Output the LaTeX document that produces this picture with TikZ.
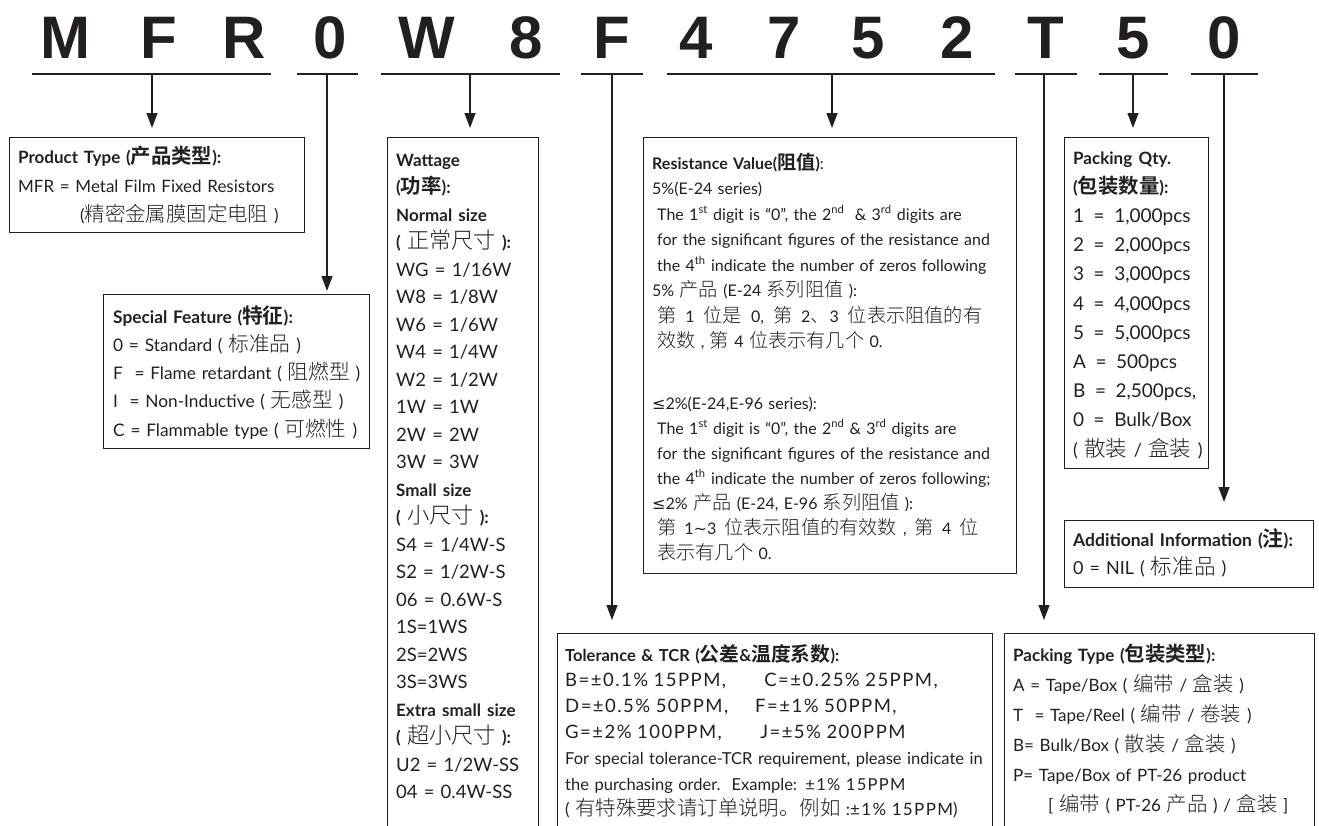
\documentclass[tikz,border=0pt]{standalone}
\usepackage{fontspec}
\setmainfont{Lato}
\IfFontExistsTF{Noto Sans CJK SC Light}{%
  \newfontfamily\cjk[Scale=1.2, UprightFont=* Light, BoldFont=* Bold]{Noto Sans CJK SC}}{%
  \newfontfamily\cjk[Scale=1.2]{Noto Sans CJK SC}}
\newfontfamily\bigfont{Liberation Sans}
\newfontfamily\symfont{DejaVu Sans}
\usetikzlibrary{arrows.meta}
\definecolor{ink}{RGB}{35,31,32}
\newcommand\zh[1]{{\cjk #1}}
\newcommand\sy[1]{{\symfont #1}}
\newcommand\sups[1]{\textsuperscript{#1}}
\newcommand\hb[1]{{\fontsize{17}{27.5}\selectfont\bfseries #1}}
\newcommand\hq[1]{{\fontsize{17}{29.2}\selectfont\bfseries #1}}
\newcommand\tv[1]{{\fontsize{18.5}{25.8}\selectfont\addfontfeatures{LetterSpace=8}#1}}
\newcommand\ls[1]{{\addfontfeatures{LetterSpace=8}#1}}
\newcommand\eq{\enspace=\enspace}
\tikzset{
  letter/.style={font=\bigfont\bfseries\fontsize{60}{60}\selectfont, anchor=base, inner sep=0pt, text=ink},
  uline/.style={draw=ink, line width=2pt},
  frame/.style={draw=ink, line width=1.1pt, anchor=north west, inner sep=0pt, minimum width=#1},
  fh/.style={minimum height=#1},
  txt/.style={anchor=base west, inner sep=0pt, text width=#1, align=left, text=ink},
  conn/.style={draw=ink, line width=1.3pt, -{Triangle[length=15pt,width=11pt]}},
}
\begin{document}
\begin{tikzpicture}[x=1pt,y=-1pt]
\useasboundingbox (0,0) rectangle (1319,825);
\clip (0,0) rectangle (1319,825);
% code letters
\node[letter] (L1) at (65,58) {M};
\node[letter] (L2) at (159,58) {F};
\node[letter] (L3) at (244,58) {R};
\node[letter] (L4) at (330,58) {0};
\node[letter] (L5) at (427,58) {W};
\node[letter] (L6) at (526,58) {8};
\node[letter] (L7) at (612,58) {F};
\node[letter] (L8) at (696,58) {4};
\node[letter] (L9) at (784,58) {7};
\node[letter] (L10) at (868,58) {5};
\node[letter] (L11) at (957,58) {2};
\node[letter] (L12) at (1046,58) {T};
\node[letter] (L13) at (1133,58) {5};
\node[letter] (L14) at (1224,58) {0};
% underlines
\draw[uline] (32,74) -- (271,74);
\draw[uline] (297,74) -- (358,74);
\draw[uline] (381,74) -- (560,74);
\draw[uline] (581,74) -- (643,74);
\draw[uline] (667,74) -- (995,74);
\draw[uline] (1015,74) -- (1077,74);
\draw[uline] (1099,74) -- (1168,74);
\draw[uline] (1191,74) -- (1258,74);
\coordinate (c1) at (152,74);
\coordinate (c2) at (327,74);
\coordinate (c3) at (470,74);
\coordinate (c4) at (612,74);
\coordinate (c5) at (832,74);
\coordinate (c6) at (1044,74);
\coordinate (c7) at (1133,74);
\coordinate (c8) at (1224,74);
% frames
\node[frame=295pt, fh=95pt] (pt) at (9,137) {};
\node[frame=266pt, fh=154pt] (sf) at (103,294) {};
\node[frame=151pt, fh=720pt] (wt) at (387,137) {};
\node[frame=373pt, fh=436pt] (rv) at (643,137) {};
\node[frame=435pt, fh=220pt] (tl) at (557,633) {};
\node[frame=144pt, fh=331pt] (pq) at (1064,137) {};
\node[frame=249pt, fh=67pt] (ai) at (1064,520) {};
\node[frame=310pt, fh=220pt] (ptp) at (1004,633) {};
% connectors
\draw[conn, shorten >=9pt] (c1) -- (c1 |- pt.north);
\draw[conn, shorten >=3pt] (c2) -- (c2 |- sf.north);
\draw[conn, shorten >=9pt] (c3) -- (c3 |- wt.north);
\draw[conn, shorten >=13pt] (c4) -- (c4 |- tl.north);
\draw[conn, shorten >=9pt] (c5) -- (c5 |- rv.north);
\draw[conn, shorten >=13pt] (c6) -- (c6 |- ptp.north);
\draw[conn, shorten >=9pt] (c7) -- (c7 |- pq.north);
\draw[conn, shorten >=18pt] (c8) -- (c8 |- ai.north);
% texts
\node[txt=285pt, font=\fontsize{17}{29}\selectfont] (pt-t) at (18,163) {%
\textbf{Product Type (\zh{产品类型}):}\\
MFR = Metal Film Fixed Resistors\\
\hspace*{62pt}(\zh{精密金属膜固定电阻} )};
\node[txt=260pt, font=\fontsize{17.3}{28.3}\selectfont] (sf-t) at (113,323) {%
\textbf{Special Feature (\zh{特征}):}\\
0 = Standard ( \zh{标准品} )\\
F\ \ = Flame retardant ( \zh{阻燃型} )\\
I\ \ = Non-Inductive ( \zh{无感型} )\\
C = Flammable type ( \zh{可燃性} )};
\node[txt=140pt, font=\fontsize{18.5}{27.5}\selectfont] (wt-t) at (396,166) {%
\hb{Wattage}\\
\hb{(\zh{功率}):}\\
\hb{Normal size}\\
\hb{(} \zh{正常尺寸} \hb{):}\\
WG = 1/16W\\
W8 = 1/8W\\
W6 = 1/6W\\
W4 = 1/4W\\
W2 = 1/2W\\
1W = 1W\\
2W = 2W\\
3W = 3W\\
\hb{Small size}\\
\hb{(} \zh{小尺寸} \hb{):}\\
S4 = 1/4W-S\\
S2 = 1/2W-S\\
06 = 0.6W-S\\
1S=1WS\\
2S=2WS\\
3S=3WS\\
\hb{Extra small size}\\
\hb{(} \zh{超小尺寸} \hb{):}\\
U2 = 1/2W-SS\\
04 = 0.4W-SS};
\node[txt=365pt, font=\fontsize{16}{25.5}\selectfont] (rv-t1) at (652,169) {%
\textbf{Resistance Value(\zh{阻值})}:\\
5\%(E-24 series)\\
\hspace*{5pt}The 1\sups{st} digit is “0”, the 2\sups{nd}\ \ \& 3\sups{rd} digits are\\
\hspace*{5pt}for the significant figures of the resistance and\\
\hspace*{5pt}the 4\sups{th} indicate the number of zeros following\\
5\% \zh{产品} (E-24 \zh{系列阻值} ):\\
\hspace*{5pt}\zh{第}\hspace{9pt}1\hspace{9pt}\zh{位是}\hspace{9pt}0,\hspace{9pt}\zh{第}\hspace{9pt}2\zh{、}3\hspace{9pt}\zh{位表示阻值的有}\\
\hspace*{5pt}\zh{效数} , \zh{第} 4 \zh{位表示有几个} 0.};
\node[txt=365pt, font=\fontsize{16}{25}\selectfont] (rv-t2) at (652,409) {%
\sy{≤}2\%(E-24,E-96 series):\\
\hspace*{5pt}The 1\sups{st} digit is “0”, the 2\sups{nd} \& 3\sups{rd} digits are\\
\hspace*{5pt}for the significant figures of the resistance and\\
\hspace*{5pt}the 4\sups{th} indicate the number of zeros following;\\
\sy{≤}2\% \zh{产品} (E-24, E-96 \zh{系列阻值} ):\\
\hspace*{5pt}\zh{第}\hspace{8pt}1\sy{∼}3\hspace{8pt}\zh{位表示阻值的有效数}\hspace{6pt},\hspace{8pt}\zh{第}\hspace{8pt}4\hspace{8pt}\zh{位}\\
\hspace*{5pt}\zh{表示有几个} 0.};
\node[txt=430pt, font=\fontsize{16.5}{25.8}\selectfont] (tl-t) at (565,661) {%
\textbf{Tolerance \& TCR (\zh{公差}\&\zh{温度系数}):}\\
\tv{\makebox[199pt][l]{B=±0.1\% 15PPM,}C=±0.25\% 25PPM,}\\
\tv{\makebox[190pt][l]{D=±0.5\% 50PPM,}F=±1\% 50PPM,}\\
\tv{\makebox[195pt][l]{G=±2\% 100PPM,}J=±5\% 200PPM}\\
For special tolerance-TCR requirement, please indicate in\\
the purchasing order.\ \ Example: \ls{±1\% 15PPM}\\
{\fontsize{17}{25.8}\selectfont ( \zh{有特殊要求请订单说明。例如} :\ls{±1\% 15PPM})}};
\node[txt=140pt, font=\fontsize{19}{29.2}\selectfont] (pq-t) at (1073,164) {%
\hq{Packing Qty.}\\
\hq{(\zh{包装数量}):}\\
1\eq1,000pcs\\
2\eq2,000pcs\\
3\eq3,000pcs\\
4\eq4,000pcs\\
5\eq5,000pcs\\
A\eq500pcs\\
B\eq2,500pcs,\\
0\eq Bulk/Box\\
{\fontsize{18}{29.2}\selectfont( \zh{散装} / \zh{盒装} )}};
\node[txt=240pt, font=\fontsize{18}{28}\selectfont] (ai-t) at (1073,546) {%
{\fontsize{17.5}{28}\selectfont\bfseries Additional Information (\zh{注}):}\\
0 = NIL ( \zh{标准品} )};
\node[txt=300pt, font=\fontsize{17}{30}\selectfont] (ptp-t) at (1013,661) {%
\textbf{Packing Type (\zh{包装类型}):}\\
A = Tape/Box ( \zh{编带} / \zh{盒装} )\\
T\ \ = Tape/Reel ( \zh{编带} / \zh{卷装} )\\
B= Bulk/Box ( \zh{散装} / \zh{盒装} )\\
P= Tape/Box of PT-26 product\\
\hspace*{35pt}[ \zh{编带} ( PT-26 \zh{产品} ) / \zh{盒装} ]};
\end{tikzpicture}
\end{document}
